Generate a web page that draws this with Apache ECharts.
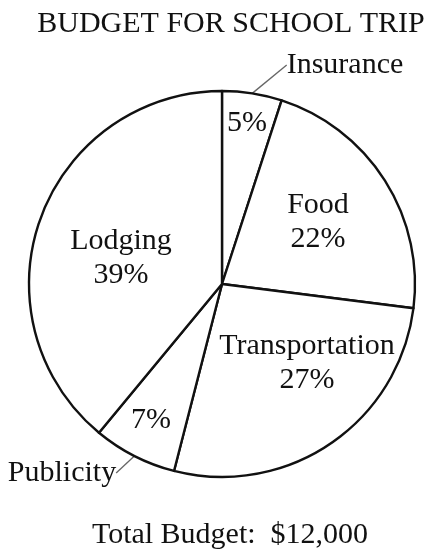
<!DOCTYPE html>
<html>
<head>
<meta charset="utf-8">
<script src="https://cdn.jsdelivr.net/npm/echarts@6/dist/echarts.min.js"></script>
<style>
html,body{margin:0;padding:0;background:#fff;}
#chart{width:425px;height:552px;}
</style>
</head>
<body>
<div id="chart"></div>
<script>
// ---- data ----
const chartTitle = 'BUDGET FOR SCHOOL TRIP';
const footnote = 'Total Budget:  $12,000';
const categories = ['Insurance', 'Food', 'Transportation', 'Publicity', 'Lodging'];
const percents = [5, 22, 27, 7, 39];

// ---- label placement (layout only) ----
const innerLabelPos = {
  Insurance: [247, 123],
  Food: [318, 222],
  Transportation: [307, 363],
  Publicity: [151, 420],
  Lodging: [121, 258]
};
const outerLabelPos = {
  Insurance: [345, 65],
  Publicity: [62, 473]
};

const FONT = "'Liberation Serif', 'Times New Roman', serif";
const INK = '#111';
const SMALL = 10; // slices below this % get their name outside

const pieData = categories.map((c, i) => ({ name: c, value: percents[i] }));
const outerData = categories.map((c, i) => {
  const out = percents[i] < SMALL;
  return {
    name: c,
    value: percents[i],
    label: { show: out },
    labelLine: { show: out }
  };
});

const chart = echarts.init(document.getElementById('chart'), null, { renderer: 'canvas' });
chart.setOption({
  backgroundColor: '#fff',
  animation: false,
  title: [
    {
      text: chartTitle,
      left: 226, top: 4, textAlign: 'center',
      textStyle: { fontFamily: FONT, fontSize: 30, fontWeight: 'normal', color: INK }
    },
    {
      text: footnote,
      left: 225, top: 515, textAlign: 'center',
      textStyle: { fontFamily: FONT, fontSize: 30, fontWeight: 'normal', color: INK }
    }
  ],
  series: [
    {
      type: 'pie',
      silent: true,
      center: [222, 284],
      radius: 193,
      startAngle: 90,
      clockwise: true,
      itemStyle: { color: '#fff', borderColor: '#111', borderWidth: 2.4 },
      label: {
        show: true,
        position: 'inside',
        fontFamily: FONT,
        fontSize: 30,
        lineHeight: 34,
        color: INK,
        formatter: p => p.value >= SMALL ? p.name + '\n' + p.value + '%' : p.value + '%'
      },
      labelLine: { show: false },
      labelLayout: p => {
        const pos = innerLabelPos[categories[p.dataIndex]];
        return { x: pos[0], y: pos[1], align: 'center', verticalAlign: 'middle' };
      },
      data: pieData
    },
    {
      type: 'pie',
      silent: true,
      z: 1,
      center: [222, 284],
      radius: 193,
      startAngle: 90,
      clockwise: true,
      itemStyle: { color: 'rgba(0,0,0,0)', borderWidth: 0 },
      label: {
        position: 'outside',
        fontFamily: FONT,
        fontSize: 30,
        color: INK,
        formatter: '{b}'
      },
      labelLine: {
        length: 8,
        length2: 0,
        smooth: false,
        lineStyle: { color: '#666', width: 1.3 }
      },
      labelLayout: p => {
        const pos = outerLabelPos[categories[p.dataIndex]];
        if (!pos) return {};
        return { x: pos[0], y: pos[1], align: 'center', verticalAlign: 'middle' };
      },
      data: outerData
    }
  ]
});
</script>
</body>
</html>
